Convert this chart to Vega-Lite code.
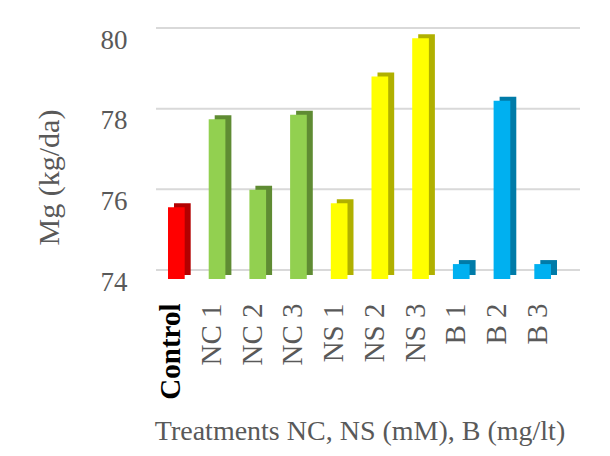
{
  "$schema": "https://vega.github.io/schema/vega-lite/v6.json",
  "width": 407,
  "height": 242,
  "autosize": {"type": "none"},
  "padding": {"left": 156, "top": 37, "right": 47, "bottom": 177},
  "background": "white",
  "config": {
    "view": {"stroke": null},
    "font": "Liberation Serif",
    "axis": {"labelFont": "Liberation Serif", "titleFont": "Liberation Serif", "titleFontWeight": "normal", "labelColor": "#595959", "titleColor": "#595959"}
  },
  "datasets": {
    "bars": [
      {"treatment": "Control", "group": "Control", "value": 75.78},
      {"treatment": "NC 1", "group": "NC", "value": 77.96},
      {"treatment": "NC 2", "group": "NC", "value": 76.21},
      {"treatment": "NC 3", "group": "NC", "value": 78.07},
      {"treatment": "NS 1", "group": "NS", "value": 75.88},
      {"treatment": "NS 2", "group": "NS", "value": 79.02},
      {"treatment": "NS 3", "group": "NS", "value": 79.97},
      {"treatment": "B 1", "group": "B", "value": 74.37},
      {"treatment": "B 2", "group": "B", "value": 78.42},
      {"treatment": "B 3", "group": "B", "value": 74.37}
    ],
    "grid": [{"v": 74}, {"v": 76}, {"v": 78}, {"v": 80}]
  },
  "layer": [
    {
      "data": {"name": "grid"},
      "mark": {"type": "rule", "color": "#d9d9d9", "strokeWidth": 2, "xOffset": 17, "x2Offset": 11, "yOffset": -9},
      "encoding": {
        "y": {"field": "v", "type": "quantitative", "scale": {"domain": [74, 80], "nice": false, "zero": false},
          "axis": {"values": [74, 76, 78, 80], "grid": false, "ticks": false, "domain": false, "labelFontSize": 27, "labelPadding": 29, "labelOffset": 3, "title": "Mg (kg/da)", "titleFontSize": 30, "titlePadding": 36, "titleY": 140}}
      }
    },
    {
      "data": {"name": "bars"},
      "mark": {"type": "bar", "xOffset": 6, "x2Offset": 6, "yOffset": -4, "y2Offset": -4, "width": {"band": 0.41}},
      "encoding": {
        "x": {"field": "treatment", "type": "nominal", "sort": null, "scale": {"paddingInner": 0, "paddingOuter": 0},
          "axis": {"labelAngle": 270, "labelAlign": "right", "labelBaseline": "middle", "labelFontSize": 29, "labelPadding": 24, "labelOffset": -5, "ticks": false, "domain": false, "grid": false,
            "labelColor": {"condition": {"test": "datum.value === 'Control'", "value": "#000000"}, "value": "#595959"},
            "labelFontWeight": {"condition": {"test": "datum.value === 'Control'", "value": "bold"}, "value": "normal"},
            "title": "Treatments NC, NS (mM), B (mg/lt)", "titleFontSize": 28, "titlePadding": 18}},
        "y": {"field": "value", "type": "quantitative"},
        "y2": {"datum": 74},
        "color": {"field": "group", "type": "nominal", "legend": null,
          "scale": {"domain": ["Control", "NC", "NS", "B"], "range": ["#b30000", "#5f8b33", "#b0b000", "#007ba8"]}}
      }
    },
    {
      "data": {"name": "bars"},
      "mark": {"type": "bar", "width": {"band": 0.41}},
      "encoding": {
        "x": {"field": "treatment", "type": "nominal", "sort": null,
          "axis": {"labelAngle": 270, "labelAlign": "right", "labelBaseline": "middle", "labelFontSize": 29, "labelPadding": 24, "labelOffset": -5, "ticks": false, "domain": false, "grid": false,
            "labelColor": {"condition": {"test": "datum.value === 'Control'", "value": "#000000"}, "value": "#595959"},
            "labelFontWeight": {"condition": {"test": "datum.value === 'Control'", "value": "bold"}, "value": "normal"},
            "title": "Treatments NC, NS (mM), B (mg/lt)", "titleFontSize": 28, "titlePadding": 18}},
        "y": {"field": "value", "type": "quantitative"},
        "y2": {"datum": 74},
        "color": {"field": "group", "type": "nominal", "legend": null,
          "scale": {"domain": ["Control", "NC", "NS", "B"], "range": ["#ff0000", "#92d050", "#ffff00", "#00b0f0"]}}
      }
    }
  ],
  "resolve": {"scale": {"color": "independent"}}
}
